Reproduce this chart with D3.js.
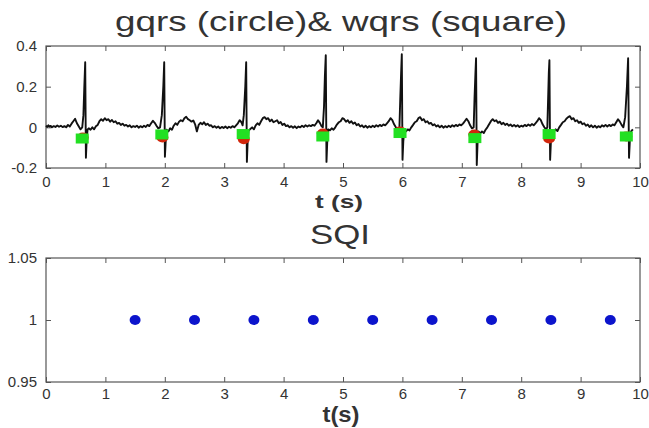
<!DOCTYPE html>
<html>
<head>
<meta charset="utf-8">
<script src="https://cdn.jsdelivr.net/npm/d3@7"></script>
<style>
  body { margin: 0; background: #fff; }
  svg text { font-family: "Liberation Sans", Arial, sans-serif; fill: #333; }
</style>
</head>
<body>
<div id="chart"></div>
<script>
// axis ticks
const xTicks = [0, 1, 2, 3, 4, 5, 6, 7, 8, 9, 10];
const ecgTicks = [-0.2, 0, 0.2, 0.4];
const sqiTicks = [0.95, 1, 1.05];

// ecg trace, [t (s), value]
const ecg = [
  [0, 0.008], [0.02, 0.002], [0.04, 0.01], [0.06, 0.004], [0.08, 0.007], [0.1, 0], [0.13, 0.006],
  [0.16, 0.002], [0.19, 0.009], [0.22, 0.003], [0.25, 0.008], [0.28, 0.001], [0.31, 0.006], [0.34, 0],
  [0.37, 0.012], [0.4, 0.004], [0.43, 0.018], [0.46, 0.03], [0.49, 0.042], [0.52, 0.02], [0.55, 0.005],
  [0.58, -0.01], [0.61, 0], [0.63, 0.06], [0.645, 0.2], [0.66, 0.32], [0.672, -0.15], [0.685, -0.06],
  [0.7, -0.01], [0.72, -0.005], [0.75, -0.012], [0.78, 0], [0.81, -0.01], [0.84, 0.005], [0.87, 0.012],
  [0.9, 0.03], [0.93, 0.04], [0.96, 0.032], [0.99, 0.045], [1.02, 0.035], [1.05, 0.04], [1.08, 0.028],
  [1.11, 0.036], [1.14, 0.025], [1.17, 0.03], [1.2, 0.018], [1.23, 0.022], [1.26, 0.012], [1.29, 0.018],
  [1.32, 0.008], [1.35, 0.012], [1.38, 0.004], [1.41, 0.01], [1.44, 0], [1.47, 0.006], [1.5, 0.002],
  [1.53, 0.008], [1.56, -0.002], [1.59, 0.006], [1.62, 0], [1.65, 0.008], [1.68, 0.002], [1.71, 0.012],
  [1.74, 0.006], [1.77, 0.02], [1.8, 0.032], [1.83, 0.022], [1.86, 0.008], [1.89, -0.005], [1.92, 0],
  [1.95, 0.06], [1.975, 0.2], [1.99, 0.32], [2.002, -0.145], [2.015, -0.07], [2.03, -0.012], [2.06, -0.02],
  [2.09, -0.005], [2.12, -0.012], [2.15, 0.008], [2.18, 0.02], [2.21, 0.012], [2.24, 0.028], [2.27, 0.035],
  [2.3, 0.03], [2.33, 0.045], [2.36, 0.052], [2.39, 0.04], [2.42, 0.035], [2.45, 0.028], [2.48, 0.034],
  [2.51, 0.015], [2.54, -0.02], [2.57, 0.012], [2.6, 0.022], [2.63, 0.015], [2.66, 0.025], [2.69, 0.012],
  [2.72, 0.018], [2.75, 0.008], [2.78, 0.01], [2.81, 0], [2.84, 0.006], [2.87, -0.002], [2.9, 0.004],
  [2.93, -0.005], [2.96, 0.002], [2.99, -0.003], [3.02, 0.004], [3.05, -0.004], [3.08, 0.003], [3.11, -0.002],
  [3.14, 0.006], [3.17, 0], [3.2, 0.01], [3.23, 0.02], [3.26, 0.035], [3.29, 0.025], [3.31, 0.01],
  [3.33, 0.06], [3.355, 0.2], [3.37, 0.32], [3.382, -0.17], [3.395, -0.07], [3.41, -0.015], [3.44, -0.008],
  [3.47, 0], [3.5, -0.01], [3.53, 0.01], [3.56, 0.02], [3.59, 0.012], [3.62, 0.03], [3.65, 0.045],
  [3.68, 0.05], [3.71, 0.04], [3.74, 0.045], [3.77, 0.03], [3.8, 0.038], [3.83, 0.025], [3.86, 0.03],
  [3.89, 0.035], [3.92, 0.02], [3.95, 0.026], [3.98, 0.012], [4.01, 0.018], [4.04, 0.006], [4.07, 0.01],
  [4.1, 0], [4.13, 0.006], [4.16, -0.002], [4.19, 0.005], [4.22, -0.004], [4.25, 0.004], [4.28, 0],
  [4.31, 0.008], [4.34, 0.002], [4.37, 0.01], [4.4, 0.004], [4.43, 0.01], [4.46, 0.006], [4.49, 0.012],
  [4.52, 0.008], [4.55, 0.02], [4.58, 0.035], [4.61, 0.022], [4.64, 0.005], [4.66, 0], [4.68, 0.1],
  [4.695, 0.25], [4.71, 0.355], [4.722, -0.17], [4.735, -0.07], [4.75, -0.01], [4.78, -0.015], [4.81, -0.005],
  [4.84, -0.012], [4.87, 0], [4.9, 0.015], [4.93, 0.025], [4.96, 0.03], [4.99, 0.045], [5.02, 0.04],
  [5.05, 0.028], [5.08, 0.035], [5.11, 0.022], [5.14, 0.03], [5.17, 0.018], [5.2, 0.024], [5.23, 0.01],
  [5.26, 0.016], [5.29, 0.004], [5.32, 0.01], [5.35, 0], [5.38, 0.008], [5.41, -0.002], [5.44, 0.006],
  [5.47, 0], [5.5, 0.008], [5.53, 0.002], [5.56, 0.01], [5.59, 0.004], [5.62, 0.012], [5.65, 0.006],
  [5.68, 0.014], [5.71, 0.01], [5.74, 0.02], [5.77, 0.03], [5.8, 0.045], [5.83, 0.035], [5.86, 0.015],
  [5.89, 0], [5.92, -0.01], [5.95, 0], [5.965, 0.15], [5.98, 0.28], [5.99, 0.36], [6.002, -0.16],
  [6.015, -0.07], [6.03, -0.015], [6.06, -0.02], [6.09, -0.01], [6.12, -0.015], [6.15, 0], [6.18, 0.012],
  [6.21, 0.025], [6.24, 0.03], [6.27, 0.045], [6.3, 0.05], [6.33, 0.035], [6.36, 0.04], [6.39, 0.025],
  [6.42, 0.03], [6.45, 0.018], [6.48, 0.022], [6.51, 0.01], [6.54, 0.015], [6.57, 0.004], [6.6, 0.01],
  [6.63, 0], [6.66, 0.008], [6.69, -0.002], [6.72, 0.006], [6.75, 0], [6.78, 0.008], [6.81, 0.002],
  [6.84, 0.01], [6.87, 0.004], [6.9, 0.012], [6.93, 0.006], [6.96, 0.014], [6.99, 0.01], [7.02, 0.018],
  [7.05, 0.03], [7.08, 0.042], [7.11, 0.03], [7.14, 0.01], [7.17, -0.005], [7.2, 0], [7.215, 0.15],
  [7.23, 0.27], [7.24, 0.34], [7.252, -0.185], [7.265, -0.08], [7.28, -0.02], [7.31, -0.03], [7.34, -0.02],
  [7.37, -0.028], [7.4, -0.012], [7.43, 0], [7.46, 0.015], [7.49, 0.03], [7.52, 0.04], [7.55, 0.03],
  [7.58, 0.035], [7.61, 0.022], [7.64, 0.028], [7.67, 0.015], [7.7, 0.022], [7.73, 0.012], [7.76, 0.018],
  [7.79, 0.008], [7.82, 0.014], [7.85, 0.005], [7.88, 0.012], [7.91, 0.004], [7.94, 0.01], [7.97, 0.002],
  [8, 0.008], [8.03, 0.004], [8.06, 0.012], [8.09, 0.006], [8.12, 0.014], [8.15, 0.008], [8.18, 0.016],
  [8.21, 0.01], [8.24, 0.02], [8.27, 0.03], [8.3, 0.045], [8.33, 0.035], [8.36, 0.015], [8.39, 0],
  [8.42, -0.01], [8.44, 0], [8.455, 0.16], [8.465, 0.27], [8.475, 0.33], [8.487, -0.16], [8.5, -0.07],
  [8.515, -0.015], [8.55, -0.02], [8.58, -0.01], [8.61, -0.018], [8.64, 0], [8.67, 0.012], [8.7, 0.025],
  [8.73, 0.03], [8.76, 0.042], [8.79, 0.05], [8.82, 0.055], [8.85, 0.04], [8.88, 0.045], [8.91, 0.03],
  [8.94, 0.035], [8.97, 0.022], [9, 0.028], [9.03, 0.015], [9.06, 0.02], [9.09, 0.008], [9.12, 0.014],
  [9.15, 0.002], [9.18, 0.01], [9.21, 0], [9.24, 0.008], [9.27, -0.002], [9.3, 0.006], [9.33, 0],
  [9.36, 0.01], [9.39, 0.004], [9.42, 0.012], [9.45, 0.004], [9.48, 0.012], [9.51, 0.006], [9.54, 0.014],
  [9.57, 0.01], [9.6, 0.025], [9.63, 0.04], [9.66, 0.028], [9.69, 0.012], [9.72, 0], [9.75, 0.05],
  [9.78, 0.2], [9.8, 0.34], [9.815, -0.15], [9.83, -0.06], [9.85, -0.02], [9.88, -0.01]
];

// detections
const gqrsT = [0.62, 1.96, 3.33, 4.66, 5.96, 7.21, 8.47, 9.77];
const gqrsV = [-0.05, -0.05, -0.058, -0.03, -0.02, -0.035, -0.055, -0.045];
const wqrsT = [0.61, 1.95, 3.32, 4.66, 5.96, 7.22, 8.47, 9.77];
const wqrsV = [-0.055, -0.035, -0.033, -0.045, -0.028, -0.053, -0.033, -0.045];

// signal quality index
const sqiT = [1.5, 2.5, 3.5, 4.5, 5.5, 6.5, 7.5, 8.5, 9.5];
const sqiV = [1, 1, 1, 1, 1, 1, 1, 1, 1];

const width = 649, height = 428;
const left = 46, right = 640;

const svg = d3.select("#chart").append("svg")
  .attr("width", width)
  .attr("height", height);

svg.append("rect").attr("width", width).attr("height", height).attr("fill", "#fff");

const x = d3.scaleLinear().domain([0, 10]).range([left, right]);
const yEcg = d3.scaleLinear().domain([-0.2, 0.4]).range([168, 46]);
const ySqi = d3.scaleLinear().domain([0.95, 1.05]).range([382, 258]);

const fmt = d => String(d);

// matlab style box with inward ticks on all four sides
const drawBox = (y, yTicks, xPad) => {
  const [bottom, top] = y.range();
  const g = svg.append("g");

  g.append("g")
    .attr("transform", "translate(0," + bottom + ")")
    .call(d3.axisBottom(x).tickValues(xTicks).tickSize(-5).tickPadding(xPad).tickFormat(fmt));
  g.append("g")
    .attr("transform", "translate(0," + top + ")")
    .call(d3.axisTop(x).tickValues(xTicks).tickSize(-5).tickFormat(""));
  g.append("g")
    .attr("transform", "translate(" + left + ",0)")
    .call(d3.axisLeft(y).tickValues(yTicks).tickSize(-5).tickPadding(9).tickFormat(fmt));
  g.append("g")
    .attr("transform", "translate(" + right + ",0)")
    .call(d3.axisRight(y).tickValues(yTicks).tickSize(-5).tickFormat(""));

  g.selectAll(".domain").remove();
  g.selectAll(".tick line").attr("stroke", "#555");
  g.selectAll(".tick text").attr("font-size", 15).attr("fill", "#444");

  g.append("rect")
    .attr("x", left).attr("y", top)
    .attr("width", right - left).attr("height", bottom - top)
    .attr("fill", "none")
    .attr("stroke", "#555")
    .attr("stroke-width", 1.2);
};

drawBox(yEcg, ecgTicks, 8);
drawBox(ySqi, sqiTicks, 6);

// top panel
svg.append("path")
  .datum(ecg)
  .attr("fill", "none")
  .attr("stroke", "#111")
  .attr("stroke-width", 1.9)
  .attr("stroke-linejoin", "round")
  .attr("d", d3.line().x(d => x(d[0])).y(d => yEcg(d[1])));

svg.append("g").selectAll("ellipse")
  .data(gqrsT)
  .enter()
  .append("ellipse")
  .attr("cx", (d, i) => x(d))
  .attr("cy", (d, i) => yEcg(gqrsV[i]))
  .attr("rx", 6)
  .attr("ry", 5)
  .attr("fill", "#d2260c");

svg.append("g").selectAll("rect")
  .data(wqrsT)
  .enter()
  .append("rect")
  .attr("x", (d, i) => x(d) - 6.5)
  .attr("y", (d, i) => yEcg(wqrsV[i]) - 5)
  .attr("width", 13)
  .attr("height", 10)
  .attr("fill", "#22e022");

// bottom panel
svg.append("g").selectAll("ellipse")
  .data(sqiT)
  .enter()
  .append("ellipse")
  .attr("cx", (d, i) => x(d))
  .attr("cy", (d, i) => ySqi(sqiV[i]))
  .attr("rx", 5.5)
  .attr("ry", 5)
  .attr("fill", "#0c14cc");

// titles and labels (the figure was stretched sideways, hence textLength)
const label = (txt, cx, y, size, w, weight) => {
  svg.append("text")
    .attr("x", cx - w / 2)
    .attr("y", y)
    .attr("font-size", size)
    .attr("font-weight", weight)
    .attr("textLength", w)
    .attr("lengthAdjust", "spacingAndGlyphs")
    .attr("fill", "#222")
    .text(txt);
};

label("gqrs (circle)& wqrs (square)", 341, 31, 28, 452, "normal");
label("t (s)", 339, 208, 19, 48, "bold");
label("SQI", 340, 244, 28, 60, "normal");
label("t(s)", 341, 422, 22, 37, "bold");
</script>
</body>
</html>
